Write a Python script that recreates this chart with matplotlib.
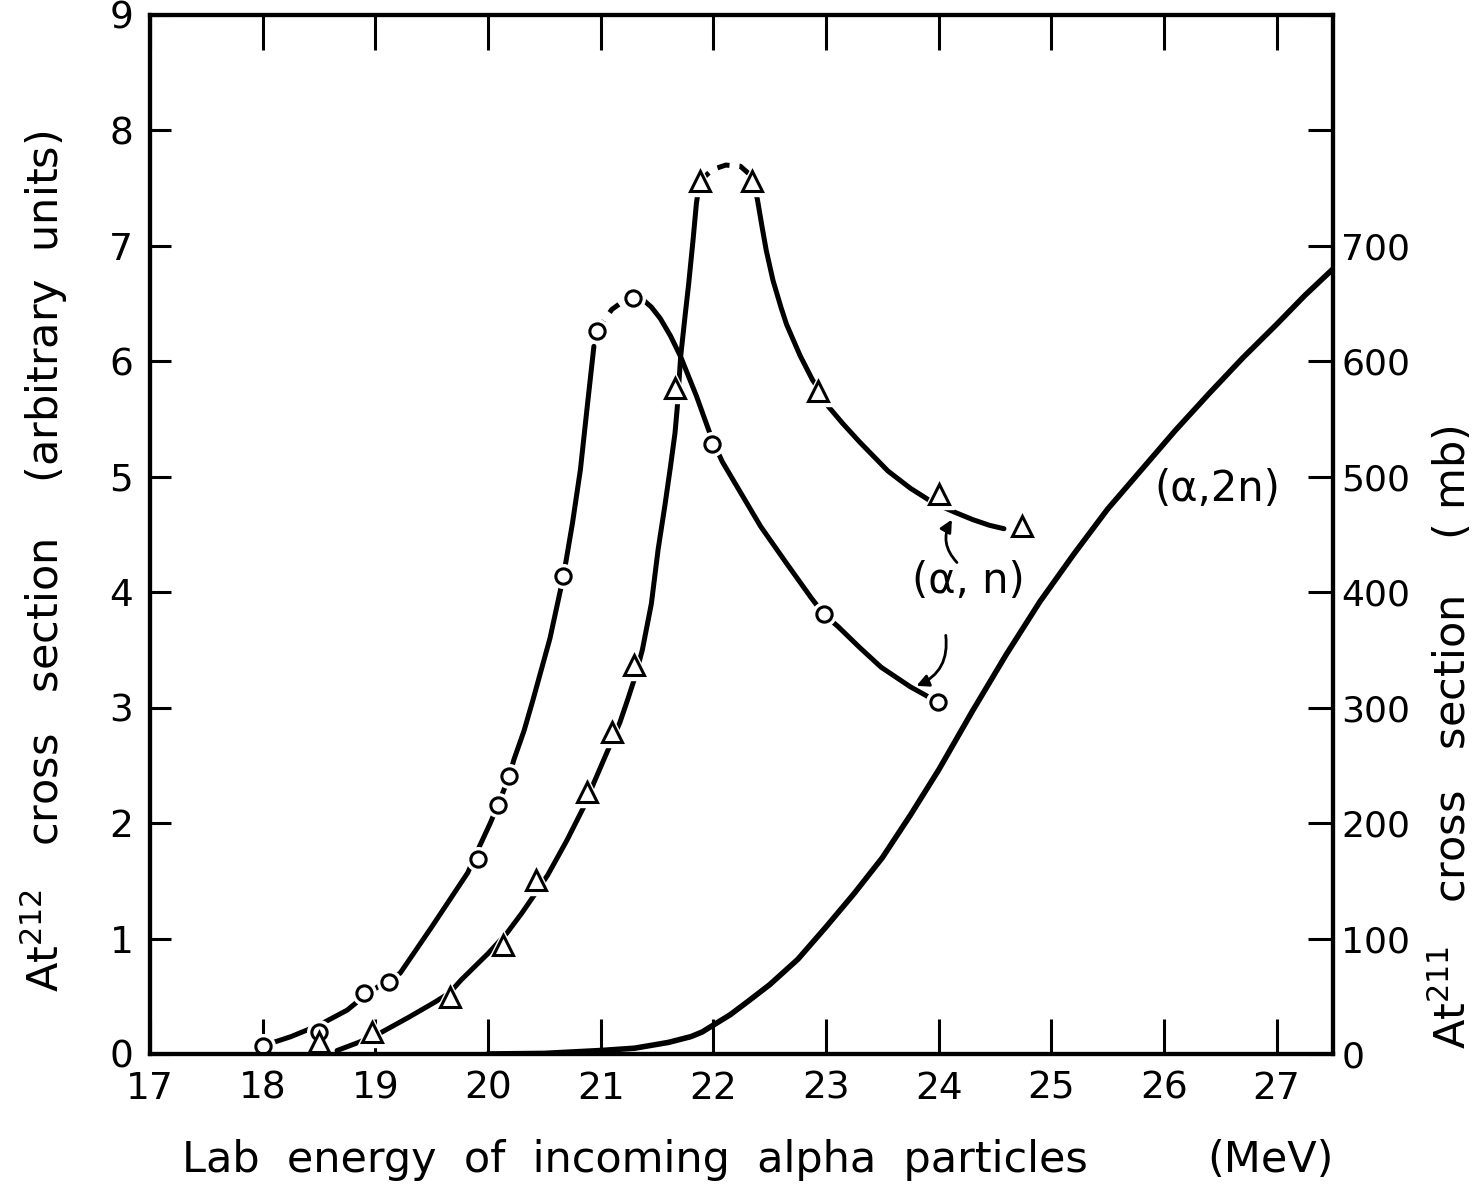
import matplotlib
matplotlib.use('Agg')
import matplotlib.pyplot as plt

plt.rcParams['font.family'] = ['DejaVu Sans']

# ---------------- data ----------------
energy_ticks = list(range(17, 28))
left_ticks = list(range(0, 10))
right_ticks_mb = list(range(0, 1000, 100))
right_tick_labels = ['0', '100', '200', '300', '400', '500', '600', '700', '', '']

# (alpha,n) circles - measured points (arbitrary units)
circ_x = [18.0, 18.5, 18.9, 19.12, 19.91, 20.09, 20.19, 20.67, 20.97, 21.29, 21.99, 22.98, 23.99]
circ_y = [0.07, 0.19, 0.53, 0.62, 1.69, 2.16, 2.41, 4.14, 6.26, 6.55, 5.28, 3.81, 3.05]

# hand-drawn curve through the circles
circ_rise_x = [18.0, 18.25, 18.5, 18.75, 18.9, 19.05, 19.22, 19.5, 19.82, 19.93, 20.02, 20.09,
               20.19, 20.23, 20.32, 20.40, 20.55, 20.67, 20.75, 20.82, 20.88, 20.94]
circ_rise_y = [0.07, 0.15, 0.25, 0.38, 0.5, 0.6, 0.70, 1.1, 1.57, 1.81, 2.0, 2.16,
               2.41, 2.55, 2.8, 3.07, 3.6, 4.14, 4.6, 5.06, 5.6, 6.13]
circ_peak_x = [20.97, 21.04, 21.1, 21.2, 21.29]
circ_peak_y = [6.26, 6.37, 6.45, 6.52, 6.55]
circ_fall_x = [21.29, 21.38, 21.45, 21.53, 21.62, 21.71, 21.85, 21.99, 22.08, 22.25, 22.42,
               22.65, 22.87, 22.98, 23.11, 23.3, 23.49, 23.75, 23.99]
circ_fall_y = [6.55, 6.53, 6.47, 6.37, 6.22, 6.04, 5.70, 5.32, 5.13, 4.85, 4.57,
               4.25, 3.95, 3.81, 3.70, 3.52, 3.35, 3.18, 3.05]

# (alpha,n) triangles - measured points (arbitrary units)
tri_x = [18.5, 18.97, 19.66, 20.13, 20.43, 20.88, 21.10, 21.30, 21.66, 21.88, 22.34, 22.93, 24.0, 24.74]
tri_y = [0.1, 0.19, 0.49, 0.94, 1.51, 2.27, 2.79, 3.37, 5.77, 7.56, 7.56, 5.74, 4.85, 4.57]

tri_rise_x = [18.66, 18.85, 19.04, 19.3, 19.53, 19.66, 19.76, 20.0, 20.17, 20.3, 20.42, 20.53,
              20.7, 20.85, 20.94, 21.09, 21.17, 21.24, 21.31, 21.37, 21.45, 21.51, 21.57, 21.62,
              21.66, 21.68, 21.71, 21.75, 21.78, 21.82, 21.85, 21.88]
tri_rise_y = [0.03, 0.1, 0.18, 0.32, 0.45, 0.53, 0.64, 0.87, 1.05, 1.22, 1.39, 1.55,
              1.85, 2.14, 2.35, 2.69, 2.87, 3.07, 3.28, 3.50, 3.90, 4.37, 4.75, 5.09,
              5.38, 5.6, 6.04, 6.40, 6.66, 7.05, 7.37, 7.56]
tri_peak_x = [21.88, 21.99, 22.11, 22.24, 22.31, 22.34]
tri_peak_y = [7.56, 7.66, 7.70, 7.69, 7.63, 7.56]
tri_fall_x = [22.34, 22.39, 22.43, 22.47, 22.53, 22.6, 22.65, 22.77, 22.88, 22.95, 23.02, 23.15,
              23.3, 23.55, 23.75, 23.96, 24.15, 24.3, 24.45, 24.58]
tri_fall_y = [7.56, 7.41, 7.18, 6.96, 6.70, 6.47, 6.32, 6.05, 5.84, 5.74, 5.61, 5.46,
              5.30, 5.05, 4.90, 4.77, 4.69, 4.63, 4.58, 4.55]

# (alpha,2n) curve, right axis (mb)
a2n_x = [20.0, 20.5, 21.0, 21.3, 21.6, 21.8, 21.9, 22.0, 22.15, 22.3, 22.5, 22.75, 23.0,
         23.25, 23.5, 23.75, 24.0, 24.3, 24.6, 24.9, 25.2, 25.5, 25.8, 26.1, 26.4, 26.7,
         27.0, 27.25, 27.5]
a2n_y = [0, 0.5, 3, 5, 10, 15, 19, 25, 34, 45, 60, 82, 110,
         139, 170, 207, 246, 297, 346, 392, 433, 472, 506, 540, 572, 603,
         632, 657, 680]

# ---------------- figure ----------------
fig = plt.figure(figsize=(14.84, 11.90), dpi=100)
ax = fig.add_axes([0.1011, 0.1143, 0.7971, 0.8731])
ax2 = ax.twinx()

ax.set_xlim(17, 27.5)
ax.set_ylim(0, 9)
ax2.set_ylim(0, 900)

lw = 3.6
for xs, ys in ((circ_rise_x, circ_rise_y), (circ_fall_x, circ_fall_y),
               (tri_rise_x, tri_rise_y), (tri_fall_x, tri_fall_y)):
    ax.plot(xs, ys, color='black', lw=lw, solid_capstyle='round',
            solid_joinstyle='round', zorder=2)
for xs, ys in ((circ_peak_x, circ_peak_y), (tri_peak_x, tri_peak_y)):
    ax.plot(xs, ys, color='black', lw=lw, ls=(0, (2.5, 2.0)), zorder=2)

# white halos to break the lines around markers
ax.plot(circ_x, circ_y, ls='none', marker='o', ms=17, mfc='white', mec='white', zorder=2.2)
ax.plot(tri_x, tri_y, ls='none', marker='^', ms=21, mfc='white', mec='white', zorder=2.2)
ax.plot(circ_x, circ_y, ls='none', marker='o', ms=11, mfc='white', mec='black', mew=2.2, zorder=3)
ax.plot(tri_x, tri_y, ls='none', marker='^', ms=15, mfc='white', mec='black', mew=2.2, zorder=3)

ax2.plot(a2n_x, a2n_y, color='black', lw=4.0, solid_capstyle='round',
         solid_joinstyle='round', zorder=2)

# ---------------- axes styling ----------------
for a in (ax, ax2):
    for s in a.spines.values():
        s.set_linewidth(3.0)

ax.set_xticks(energy_ticks)
ax.set_xticklabels([str(t) for t in energy_ticks])
ax.set_yticks(left_ticks)
ax.set_yticklabels([str(t) for t in left_ticks])
ax2.set_yticks(right_ticks_mb)
ax2.set_yticklabels(right_tick_labels)

ax.tick_params(axis='x', which='both', direction='in', top=True, bottom=True,
               length=25, width=2.2, labelsize=27, pad=12)
ax.tick_params(axis='y', which='both', direction='in', left=True, right=False,
               length=15, width=2.2, labelsize=27, pad=12)
ax2.tick_params(axis='y', which='both', direction='in', right=True,
                length=18, width=2.2, labelsize=26, pad=6)

# axis labels
fig.text(0.030, 0.528, 'At$^{212}$   cross   section    (arbitrary  units)', rotation=90,
         ha='center', va='center', fontsize=31)
fig.text(0.978, 0.381, 'At$^{211}$   cross   section    ( mb)', rotation=90,
         ha='center', va='center', fontsize=31)
fig.text(0.428, 0.025, 'Lab  energy  of  incoming  alpha  particles', ha='center',
         va='center', fontsize=31)
fig.text(0.856, 0.025, '(MeV)', ha='center', va='center', fontsize=31)

# curve labels
ax.text(24.26, 4.1, '(α, n)', ha='center', va='center', fontsize=30)
ax.text(26.47, 4.89, '(α,2n)', ha='center', va='center', fontsize=30)
ax.annotate('', xy=(24.13, 4.65), xytext=(24.18, 4.24),
            arrowprops=dict(arrowstyle='-|>', color='black', lw=2,
                            connectionstyle='arc3,rad=-0.4', mutation_scale=18))
ax.annotate('', xy=(23.78, 3.18), xytext=(24.06, 3.65),
            arrowprops=dict(arrowstyle='-|>', color='black', lw=2,
                            connectionstyle='arc3,rad=-0.4', mutation_scale=18))

fig.savefig('out.png', dpi=100, facecolor='white')
